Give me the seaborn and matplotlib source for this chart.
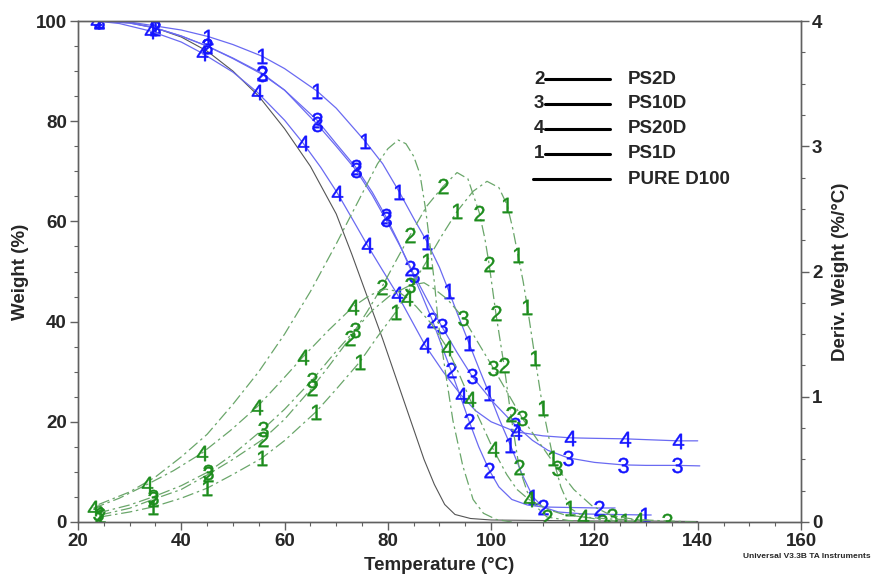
import matplotlib
matplotlib.use("Agg")
import matplotlib.pyplot as plt
from matplotlib.ticker import MultipleLocator
from matplotlib.lines import Line2D
import seaborn as sns

# ---- weight curves (%) ----
t_w1 = [24, 30, 35, 40, 45.2, 50, 55.6, 60, 66.3, 70, 75.6, 79, 82.2, 85, 87.6, 90, 91.8, 93.5,
        95.7, 97.7, 99.6, 101.5, 103.7, 106, 108.1, 110, 113, 118, 124, 129.8, 131]
w1 = [100, 99.8, 99.0, 98.2, 96.9, 95.3, 93.0, 90.5, 86.0, 82.6, 76.0, 71.5, 65.9, 60.6, 55.9, 50.8,
      46.1, 41.5, 35.7, 30.5, 25.7, 20.7, 15.4, 9.5, 5.0, 3.0, 2.0, 1.6, 1.5, 1.4, 1.4]
lab_w1 = [0, 2, 4, 6, 8, 10, 12, 14, 16, 18, 20, 22, 24, 29]

t_w2 = [24, 30, 35, 40, 45, 50, 55.6, 60, 66.3, 70, 73.8, 77, 79.6, 82, 84.3, 86.5, 88.6, 90.4,
        92.2, 94, 95.7, 97.6, 99.6, 101.5, 104, 107, 110, 115, 120.9, 124]
w2 = [100, 99.6, 98.6, 97.0, 95.0, 92.6, 89.6, 86.2, 80.2, 75.5, 70.8, 65.8, 61.0, 56.0, 50.7, 45.5,
      40.3, 35.3, 30.3, 25.2, 20.2, 15.0, 10.4, 7.0, 4.5, 3.4, 3.0, 2.9, 2.8, 2.8]
lab_w2 = [0, 2, 4, 6, 8, 10, 12, 14, 16, 18, 20, 22, 26, 28]

t_w3 = [24, 30, 35, 40, 45, 50, 55.6, 60, 66.3, 70, 73.8, 77, 79.6, 82.5, 85.1, 87.8, 90.4, 93.3,
        96.3, 100.5, 104.6, 108, 111, 114.9, 120, 125.5, 130, 136, 140.4]
w3 = [100, 99.6, 98.6, 97.0, 95.0, 92.5, 89.4, 86.2, 79.4, 75.0, 70.3, 65.2, 60.4, 54.8, 49.3, 44.0,
      39.1, 34.0, 29.1, 23.8, 19.4, 16.3, 14.3, 12.8, 11.9, 11.4, 11.3, 11.3, 11.2]
lab_w3 = [0, 2, 4, 6, 8, 10, 12, 14, 16, 18, 20, 23, 25, 27]

t_w4 = [23.5, 28, 34, 40, 44, 50, 54.7, 60, 63.6, 67, 70.2, 73, 76, 79, 81.8, 84.5, 87.2, 90.7,
        94.2, 97, 100, 104.8, 110, 115.3, 120, 125.9, 131, 136.2, 140]
w4 = [100, 99.5, 98.0, 95.8, 93.6, 89.8, 85.8, 80.2, 75.6, 70.8, 65.7, 60.7, 55.3, 50.2, 45.5, 40.4,
      35.3, 30.0, 25.3, 22.2, 20.0, 18.0, 17.2, 16.8, 16.7, 16.6, 16.4, 16.2, 16.2]
lab_w4 = [0, 2, 4, 6, 8, 10, 12, 14, 16, 18, 21, 23, 25, 27]

t_wp = [24, 30, 35, 40, 45, 50, 55, 60, 65, 70, 73, 76, 79, 82, 85, 87, 89, 91, 93, 96, 100,
        110, 120, 130, 140]
wp = [100, 99.7, 98.6, 96.8, 94.0, 90.0, 85.0, 78.5, 71.0, 61.5, 53.5, 45.0, 36.5, 27.5, 18.5,
      12.5, 7.5, 3.5, 1.5, 0.7, 0.4, 0.3, 0.2, 0.2, 0.1]

# ---- derivative curves (%/°C) ----
t_d1 = [24.3, 30, 34.5, 40, 45, 50, 55.6, 60, 66.1, 70, 74.6, 78, 81.6, 84.5, 87.5, 90.5, 93.4,
        96.5, 99.2, 101.5, 103.1, 104.2, 105.2, 106.2, 107, 108.5, 110, 112, 113.5, 115.3, 118,
        122, 126, 130]
d1 = [0.04, 0.08, 0.12, 0.19, 0.27, 0.38, 0.51, 0.65, 0.88, 1.06, 1.28, 1.48, 1.68, 1.88, 2.08,
      2.29, 2.48, 2.64, 2.72, 2.67, 2.53, 2.34, 2.13, 1.92, 1.72, 1.31, 0.91, 0.51, 0.28, 0.11,
      0.04, 0.012, 0.004, 0]
lab_d1 = [0, 2, 4, 6, 8, 10, 12, 14, 16, 20, 22, 24, 25, 26, 27, 29, 32]

t_d2 = [24.3, 30, 34.5, 40, 45.2, 50, 55.8, 60, 65.3, 68.5, 72.7, 76, 78.9, 81.5, 84.3, 87.5,
        90.7, 93.4, 95.5, 97.7, 98.8, 99.6, 100.9, 102.5, 103.8, 105.4, 107, 108.8, 110.8, 115,
        121.5]
d2 = [0.056, 0.11, 0.18, 0.26, 0.38, 0.50, 0.66, 0.82, 1.07, 1.24, 1.47, 1.68, 1.88, 2.08, 2.29,
      2.52, 2.68, 2.79, 2.74, 2.47, 2.26, 2.06, 1.67, 1.25, 0.86, 0.44, 0.24, 0.12, 0.04, 0.012, 0]
lab_d2 = [0, 2, 4, 6, 8, 10, 12, 14, 16, 19, 21, 22, 23, 24, 25, 28, 30]

t_d3 = [23.9, 30, 34.5, 40, 45.2, 50, 55.8, 60, 65.3, 69.5, 73.6, 77, 80.5, 84.3, 87, 89, 91.5,
        94.6, 97.5, 100.4, 103.2, 106, 109.4, 112.8, 116, 119.5, 123.4, 128, 134, 140]
d3 = [0.072, 0.136, 0.20, 0.29, 0.40, 0.54, 0.74, 0.90, 1.13, 1.34, 1.53, 1.69, 1.81, 1.89, 1.91,
      1.86, 1.78, 1.63, 1.43, 1.23, 1.03, 0.83, 0.63, 0.43, 0.26, 0.13, 0.05, 0.02, 0.008, 0]
lab_d3 = [0, 2, 4, 6, 8, 10, 13, 17, 19, 21, 23, 26, 28]

t_d4 = [23, 28, 33.4, 38.5, 44, 49.5, 54.7, 59, 63.6, 68.5, 73.3, 76.5, 79.5, 82, 83.7, 85.5,
        88.5, 91.5, 93.7, 95.9, 98.2, 100.4, 103, 105, 107.3, 111, 114, 117.8, 123, 128.4, 131]
d4 = [0.11, 0.19, 0.30, 0.41, 0.55, 0.73, 0.92, 1.11, 1.32, 1.53, 1.72, 1.81, 1.86, 1.84, 1.79,
      1.72, 1.58, 1.39, 1.19, 0.98, 0.78, 0.58, 0.38, 0.26, 0.18, 0.10, 0.06, 0.04, 0.024, 0.016,
      0.012]
lab_d4 = [0, 2, 4, 6, 8, 10, 14, 17, 19, 21, 24, 27, 29]

t_dp = [24, 30, 35, 40, 45, 50, 55, 60, 65, 70, 75, 78, 80, 82, 83.5, 85, 86.2, 87.3, 88.2, 89.1,
        89.7, 91.1, 92.6, 94.5, 96.5, 98.5, 101, 104]
dp = [0.14, 0.24, 0.36, 0.52, 0.70, 0.94, 1.20, 1.50, 1.84, 2.22, 2.62, 2.86, 2.98, 3.05, 3.02,
      2.92, 2.78, 2.50, 2.20, 1.88, 1.61, 1.21, 0.81, 0.45, 0.18, 0.07, 0.02, 0]

legend_digits = ["2", "3", "4", "1", ""]
legend_names = ["PS2D", "PS10D", "PS20D", "PS1D", "PURE D100"]

BLUE_LINE, BLUE_MARK = "#6a6af2", "#1414ff"
GREEN_LINE, GREEN_MARK = "#6aa66a", "#1c8c1c"
DASHDOT = (0, (9, 3, 2, 3))

sns.set_style("ticks")
plt.rcParams["font.family"] = ["Liberation Sans", "DejaVu Sans"]
plt.rcParams["mathtext.fontset"] = "custom"
plt.rcParams["mathtext.rm"] = "Liberation Sans"
plt.rcParams["mathtext.it"] = "Liberation Sans"

fig = plt.figure(figsize=(8.76, 5.75), dpi=100)
ax = fig.add_axes([78 / 876, 53 / 575, 723 / 876, 501 / 575])
ax2 = ax.twinx()


def curve(axis, x, y, digit, idx, color, mcolor, ls="-", lw=0.9):
    sns.lineplot(x=x, y=y, ax=axis, color=color, lw=lw, linestyle=ls, sort=False,
                 estimator=None,
                 marker=f"${digit}$" if digit else None, markevery=idx if digit else None,
                 markersize=11, mfc=mcolor, mec=mcolor, mew=0.3)


# weight curves
curve(ax, t_wp, wp, "", None, "#555555", "#555555", lw=0.8)
curve(ax, t_w1, w1, "1", lab_w1, BLUE_LINE, BLUE_MARK)
curve(ax, t_w2, w2, "2", lab_w2, BLUE_LINE, BLUE_MARK)
curve(ax, t_w3, w3, "3", lab_w3, BLUE_LINE, BLUE_MARK)
curve(ax, t_w4, w4, "4", lab_w4, BLUE_LINE, BLUE_MARK)

# derivative curves
curve(ax2, t_dp, dp, "", None, GREEN_LINE, GREEN_MARK, ls=DASHDOT)
curve(ax2, t_d1, d1, "1", lab_d1, GREEN_LINE, GREEN_MARK, ls=DASHDOT)
curve(ax2, t_d2, d2, "2", lab_d2, GREEN_LINE, GREEN_MARK, ls=DASHDOT)
curve(ax2, t_d3, d3, "3", lab_d3, GREEN_LINE, GREEN_MARK, ls=DASHDOT)
curve(ax2, t_d4, d4, "4", lab_d4, GREEN_LINE, GREEN_MARK, ls=DASHDOT)

ax.set_xlim(20, 160)
ax.set_ylim(0, 100)
ax2.set_ylim(0, 4)
ax.xaxis.set_major_locator(MultipleLocator(20))
ax.xaxis.set_minor_locator(MultipleLocator(5))
ax.yaxis.set_major_locator(MultipleLocator(20))
ax.yaxis.set_minor_locator(MultipleLocator(5))
ax2.yaxis.set_major_locator(MultipleLocator(1))
ax2.yaxis.set_minor_locator(MultipleLocator(0.25))

for a in (ax, ax2):
    for s in a.spines.values():
        s.set_color("#606060")
        s.set_linewidth(1.0)
    a.tick_params(which="major", direction="out", length=6, width=1, color="#606060",
                  labelsize=13.5, pad=2)
    a.tick_params(which="minor", direction="out", length=3, width=0.8, color="#606060")
    a.set_xlabel("")
    a.set_ylabel("")
    for lab in a.get_xticklabels() + a.get_yticklabels():
        lab.set_fontweight("bold")

ax.set_xlabel("Temperature (°C)", fontsize=13.5, fontweight="bold", labelpad=5)
ax.set_ylabel("Weight (%)", fontsize=13.5, fontweight="bold", labelpad=5)
ax2.set_ylabel("Deriv. Weight (%/°C)", fontsize=13.5, fontweight="bold", labelpad=7)

# legend block
for i, (dg, name) in enumerate(zip(legend_digits, legend_names)):
    yc = 1 - (79 + 25 * i) / 575
    if dg:
        fig.text(534 / 876, yc, dg, fontsize=13.5, fontweight="bold", va="center", ha="left")
    fig.add_artist(Line2D([545 / 876 if dg else 533 / 876, 610 / 876], [yc, yc],
                          color="black", lw=2.2, transform=fig.transFigure))
    fig.text(628 / 876, yc, name, fontsize=13.5, fontweight="bold", va="center", ha="left")

fig.text(743 / 876, 1 - 557 / 575, "Universal V3.3B TA Instruments", fontsize=6,
         fontweight="bold", va="center", ha="left")

fig.savefig("out.png", dpi=100)
